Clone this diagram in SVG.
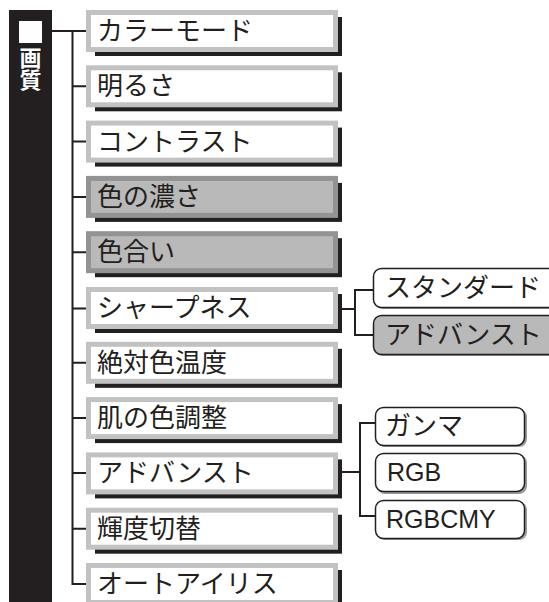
<svg xmlns="http://www.w3.org/2000/svg" width="549" height="602" viewBox="0 0 549 602">
<style>
.bg{fill:#ffffff}
.sh{fill:#231f20}
.bw{fill:#ffffff;stroke:#c2c2c2;stroke-width:5}
.bg2{fill:#b9b9b9;stroke:#939393;stroke-width:5}
.t{font-family:"Noto Sans CJK JP","Noto Sans",sans-serif;font-size:26px;fill:#231f20}
.st{font-family:"Noto Sans CJK JP","Noto Sans",sans-serif;font-size:26px;fill:#231f20}
.lt{font-family:"Liberation Sans",Arial,sans-serif;font-size:25px;fill:#231f20}
.ln{fill:none;stroke:#231f20;stroke-width:2}
.rw{fill:#ffffff;stroke:#231f20;stroke-width:1.5}
.rg{fill:#b9b9b9;stroke:#231f20;stroke-width:1.5}
.rs{fill:#9a9a9a}
.wt{font-family:"Noto Sans CJK JP",sans-serif;font-size:22px;font-weight:bold;fill:#ffffff;writing-mode:vertical-rl}
</style>
<rect x="0" y="0" width="549" height="602" class="bg"/>
<g id="side">
<rect x="9" y="10" width="43" height="592" fill="#231f20"/>
<rect x="19" y="21" width="23" height="22" fill="#ffffff"/>
<text class="wt" x="30.5" y="47">画質</text>
</g>
<g id="connectors">
<path class="ln" d="M52 31H88M72.5 30V585"/>
<path class="ln" d="M72 86.3H88M72 141.6H88M72 196.9H88M72 252.2H88M72 308.5H88M72 362.8H88M72 418.1H88M72 473H88M72 528.7H88M72 584H88"/>
<path class="ln" d="M340 309H355M355 289V335M354 290H374M354 335H374"/>
<path class="ln" d="M340 472H360M360 422V517M359 423H376M359 516H376"/>
</g>
<g id="n0"><rect class="sh" x="95" y="17" width="247" height="39"/><rect class="bw" x="88.5" y="12.5" width="247" height="37"/><text class="t" x="97" y="40">カラーモード</text></g>
<g id="n1"><rect class="sh" x="95" y="72.3" width="247" height="39"/><rect class="bw" x="88.5" y="67.8" width="247" height="37"/><text class="t" x="97" y="95.3">明るさ</text></g>
<g id="n2"><rect class="sh" x="95" y="127.6" width="247" height="39"/><rect class="bw" x="88.5" y="123.1" width="247" height="37"/><text class="t" x="97" y="150.6">コントラスト</text></g>
<g id="n3"><rect class="sh" x="95" y="182.9" width="247" height="39"/><rect class="bg2" x="88.5" y="178.4" width="247" height="37"/><text class="t" x="97" y="205.9">色の濃さ</text></g>
<g id="n4"><rect class="sh" x="95" y="238.2" width="247" height="39"/><rect class="bg2" x="88.5" y="233.7" width="247" height="37"/><text class="t" x="97" y="261.2">色合い</text></g>
<g id="n5"><rect class="sh" x="95" y="294" width="247" height="39"/><rect class="bw" x="88.5" y="289.5" width="247" height="37"/><text class="t" x="97" y="317">シャープネス</text></g>
<g id="n6"><rect class="sh" x="95" y="348.8" width="247" height="39"/><rect class="bw" x="88.5" y="344.3" width="247" height="37"/><text class="t" x="97" y="371.8">絶対色温度</text></g>
<g id="n7"><rect class="sh" x="95" y="404.1" width="247" height="39"/><rect class="bw" x="88.5" y="399.6" width="247" height="37"/><text class="t" x="97" y="427.1">肌の色調整</text></g>
<g id="n8"><rect class="sh" x="95" y="459.4" width="247" height="39"/><rect class="bw" x="88.5" y="454.9" width="247" height="37"/><text class="t" x="97" y="482.4">アドバンスト</text></g>
<g id="n9"><rect class="sh" x="95" y="514.7" width="247" height="39"/><rect class="bw" x="88.5" y="510.2" width="247" height="37"/><text class="t" x="97" y="537.7">輝度切替</text></g>
<g id="n10"><rect class="sh" x="95" y="570" width="247" height="39"/><rect class="bw" x="88.5" y="565.5" width="247" height="37"/><text class="t" x="97" y="593">オートアイリス</text></g>
<g id="s0"><rect class="rs" x="375" y="270" width="200" height="39" rx="8"/><rect class="rw" x="373.5" y="268.5" width="200" height="39" rx="8"/><text class="st" x="385" y="297">スタンダード</text></g>
<g id="s1"><rect class="rs" x="375" y="317" width="200" height="39" rx="8"/><rect class="rg" x="373.5" y="315.5" width="200" height="39" rx="8"/><text class="st" x="385" y="344">アドバンスト</text></g>
<g id="s2"><rect class="rs" x="377" y="409" width="150" height="38" rx="8"/><rect class="rw" x="375.5" y="407.5" width="149" height="38" rx="8"/><text class="st" x="385" y="435">ガンマ</text></g>
<g id="s3"><rect class="rs" x="377" y="455" width="150" height="39" rx="8"/><rect class="rw" x="375.5" y="453.5" width="149" height="38" rx="8"/><text class="lt" x="387" y="481">RGB</text></g>
<g id="s4"><rect class="rs" x="377" y="502" width="150" height="38" rx="8"/><rect class="rw" x="375.5" y="500.5" width="149" height="38" rx="8"/><text class="lt" x="386" y="528">RGBCMY</text></g>
</svg>
